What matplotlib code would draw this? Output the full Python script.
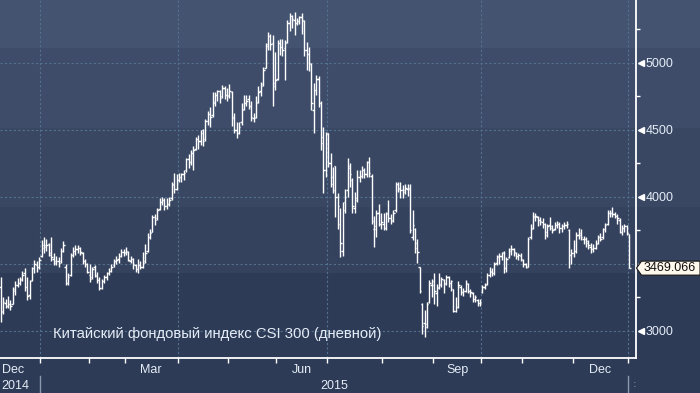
import numpy as np
import pandas as pd
import matplotlib
matplotlib.use("Agg")
import matplotlib.pyplot as plt
import matplotlib.transforms as mtransforms
from matplotlib.patches import Rectangle, Polygon

# ---------------- data (CSI 300 daily OHLC) ----------------
first_day = "2014-12-09"
last_day = "2016-01-04"
holidays = ["2015-01-01", "2015-01-02", "2015-02-18", "2015-02-19", "2015-02-20",
            "2015-02-23", "2015-02-24", "2015-04-06", "2015-05-01", "2015-06-22",
            "2015-09-03", "2015-09-04", "2015-10-01", "2015-10-02", "2015-10-05",
            "2015-10-06", "2015-10-07", "2016-01-01"]

opens = [
    # Dec 2014
    3330, 3150, 3210, 3190, 3200, 3200, 3300, 3340, 3360, 3390, 3430, 3330, 3270, 3380, 3470, 3490, 3480,
    # Jan 2015
    3560, 3620, 3630, 3650, 3580, 3540, 3510, 3520, 3520, 3600, 3480, 3360, 3420, 3570, 3600, 3610, 3620, 3580, 3520, 3500,
    # Feb
    3420, 3400, 3480, 3410, 3380, 3320, 3370, 3400, 3430, 3450, 3490, 3520, 3540, 3560, 3590,
    # Mar
    3590, 3590, 3520, 3540, 3490, 3460, 3490, 3480, 3520, 3600, 3700, 3740, 3850, 3840, 3910, 3960, 3980, 3930, 3950, 3990, 4100, 4060,
    # Apr
    4130, 4150, 4170, 4200, 4280, 4260, 4330, 4360, 4430, 4420, 4500, 4430, 4570, 4620, 4610, 4710, 4760, 4790, 4750, 4810, 4760,
    # May
    4760, 4780, 4600, 4500, 4480, 4560, 4660, 4700, 4730, 4680, 4590, 4600, 4710, 4790, 4840, 4960, 5140, 5200, 5150, 4830,
    # Jun
    4880, 5150, 5120, 5110, 5160, 5300, 5350, 5320, 5300, 5310, 5340, 5310, 5100, 5070, 4990, 4650, 4800, 4880, 4700, 4450, 4200,
    # Jul
    4480, 4250, 4150, 4230, 4000, 3800, 3600, 3960, 4050, 4220, 4130, 3920, 3990, 4150, 4160, 4200, 4170, 4260, 4160, 3760, 3780, 3880, 3800,
    # Aug
    3800, 3770, 3880, 3840, 3830, 3900, 4100, 4060, 4050, 4050, 4060, 4070, 3700, 3760, 3620, 3480, 3200, 3060, 3050, 3220, 3340,
    # Sep
    3340, 3280, 3330, 3350, 3380, 3360, 3400, 3360, 3310, 3150, 3180, 3330, 3290, 3300, 3350, 3300, 3280, 3240, 3230, 3210,
    # Oct
    3290, 3330, 3350, 3420, 3440, 3430, 3510, 3560, 3560, 3590, 3470, 3550, 3610, 3610, 3580, 3560, 3560,
    # Nov
    3530, 3500, 3480, 3700, 3770, 3860, 3850, 3830, 3810, 3800, 3720, 3790, 3770, 3760, 3790, 3800, 3770, 3780, 3790, 3750, 3570,
    # Dec
    3580, 3600, 3720, 3720, 3690, 3690, 3660, 3630, 3610, 3620, 3660, 3700, 3700, 3760, 3800, 3880, 3880, 3870, 3860, 3830, 3740, 3770, 3780,
    # Jan 2016
    3726,
]
highs = [
    3400, 3250, 3240, 3260, 3230, 3330, 3370, 3395, 3400, 3450, 3470, 3400, 3380, 3480, 3530, 3520, 3550,
    3680, 3700, 3690, 3660, 3700, 3580, 3560, 3550, 3620, 3670, 3500, 3430, 3580, 3630, 3640, 3640, 3630, 3590, 3540, 3510,
    3500, 3480, 3490, 3440, 3400, 3390, 3420, 3440, 3470, 3500, 3540, 3560, 3580, 3610, 3610,
    3625, 3600, 3560, 3545, 3500, 3540, 3520, 3590, 3650, 3730, 3760, 3865, 3870, 3920, 3990, 4000, 3990, 3990, 4000, 4110, 4180, 4170,
    4180, 4180, 4200, 4290, 4320, 4350, 4380, 4450, 4460, 4500, 4510, 4580, 4640, 4670, 4780, 4780, 4800, 4800, 4835, 4830, 4810,
    4840, 4790, 4630, 4560, 4560, 4700, 4760, 4760, 4760, 4720, 4630, 4750, 4830, 4860, 4970, 5150, 5230, 5220, 5210, 5080,
    5170, 5180, 5180, 5170, 5320, 5370, 5360, 5380, 5335, 5350, 5370, 5320, 5160, 5120, 5000, 4850, 4910, 4900, 4720, 4520, 4485,
    4480, 4330, 4225, 4230, 4030, 3920, 3960, 4060, 4290, 4250, 4140, 4040, 4200, 4200, 4230, 4220, 4270, 4300, 4170, 3860, 3900, 3950, 3880,
    3880, 3890, 3980, 3870, 3900, 4115, 4110, 4110, 4090, 4100, 4100, 4100, 3900, 3770, 3690, 3480, 3210, 3160, 3215, 3380, 3390,
    3430, 3350, 3430, 3400, 3390, 3420, 3410, 3380, 3310, 3250, 3370, 3340, 3320, 3380, 3360, 3310, 3290, 3270, 3240, 3240,
    3345, 3360, 3430, 3480, 3470, 3515, 3570, 3580, 3590, 3600, 3550, 3620, 3640, 3620, 3590, 3580, 3580,
    3540, 3510, 3700, 3800, 3890, 3880, 3860, 3850, 3840, 3805, 3800, 3850, 3790, 3810, 3820, 3810, 3800, 3810, 3820, 3760, 3610,
    3680, 3740, 3770, 3760, 3710, 3700, 3680, 3660, 3650, 3680, 3720, 3730, 3770, 3805, 3900, 3900, 3925, 3890, 3870, 3840, 3790, 3800, 3790,
    3726,
]
lows = [
    3065, 3130, 3170, 3170, 3160, 3200, 3270, 3330, 3340, 3370, 3300, 3230, 3240, 3370, 3430, 3440, 3460,
    3550, 3580, 3600, 3560, 3520, 3490, 3490, 3480, 3510, 3590, 3340, 3340, 3410, 3550, 3570, 3580, 3570, 3500, 3480, 3430,
    3365, 3390, 3400, 3360, 3305, 3310, 3360, 3380, 3420, 3440, 3480, 3500, 3510, 3550, 3560,
    3570, 3520, 3510, 3460, 3440, 3430, 3460, 3470, 3510, 3590, 3690, 3740, 3790, 3830, 3900, 3940, 3900, 3910, 3930, 3980, 4030, 4050,
    4110, 4110, 4130, 4190, 4220, 4240, 4200, 4350, 4360, 4390, 4380, 4420, 4540, 4520, 4600, 4680, 4720, 4700, 4740, 4730, 4720,
    4740, 4530, 4480, 4440, 4470, 4540, 4650, 4680, 4660, 4570, 4560, 4590, 4700, 4750, 4830, 4960, 5100, 5100, 4680, 4800,
    4870, 5060, 5050, 4870, 5150, 5240, 5260, 5210, 5280, 5290, 5220, 5050, 4950, 4940, 4650, 4480, 4760, 4670, 4350, 4030, 4150,
    4225, 4075, 4030, 3850, 3760, 3550, 3560, 3880, 4000, 4075, 3880, 3880, 3960, 4110, 4140, 4140, 4150, 4150, 3800, 3630, 3700, 3780, 3760,
    3755, 3750, 3815, 3800, 3810, 3890, 4040, 3990, 3990, 4020, 4010, 3730, 3680, 3580, 3510, 3280, 2980, 2955, 3020, 3210, 3250,
    3200, 3190, 3310, 3330, 3280, 3340, 3330, 3300, 3140, 3140, 3170, 3270, 3260, 3290, 3280, 3250, 3215, 3220, 3190, 3190,
    3280, 3310, 3340, 3400, 3410, 3420, 3490, 3500, 3530, 3430, 3440, 3545, 3570, 3560, 3540, 3530, 3520,
    3480, 3470, 3475, 3690, 3760, 3820, 3780, 3790, 3770, 3690, 3700, 3750, 3730, 3750, 3770, 3730, 3740, 3760, 3770, 3470, 3500,
    3550, 3580, 3690, 3680, 3650, 3630, 3610, 3580, 3590, 3610, 3650, 3670, 3690, 3740, 3790, 3850, 3850, 3840, 3800, 3730, 3720, 3740, 3720,
    3469.066,
]
closes = [
    3140, 3220, 3190, 3200, 3190, 3310, 3340, 3360, 3380, 3420, 3330, 3260, 3370, 3470, 3500, 3480, 3530,
    3640, 3640, 3645, 3570, 3550, 3520, 3520, 3510, 3600, 3640, 3360, 3400, 3570, 3600, 3610, 3620, 3590, 3520, 3500, 3440,
    3390, 3460, 3420, 3380, 3320, 3370, 3400, 3430, 3450, 3480, 3520, 3530, 3560, 3590, 3580,
    3600, 3530, 3540, 3500, 3460, 3490, 3480, 3510, 3580, 3700, 3730, 3850, 3830, 3900, 3960, 3980, 3930, 3950, 3980, 4090, 4060, 4130,
    4150, 4170, 4180, 4280, 4260, 4330, 4350, 4430, 4420, 4480, 4420, 4570, 4620, 4600, 4700, 4760, 4790, 4740, 4810, 4760, 4750,
    4790, 4590, 4500, 4480, 4520, 4650, 4700, 4720, 4680, 4600, 4590, 4700, 4780, 4830, 4950, 5130, 5200, 5140, 4850, 4870,
    5150, 5120, 5100, 5150, 5300, 5350, 5330, 5300, 5310, 5340, 5320, 5100, 5070, 5000, 4700, 4800, 4880, 4700, 4400, 4200, 4470,
    4250, 4100, 4050, 4000, 3930, 3660, 3900, 4000, 4230, 4170, 3930, 3980, 4150, 4160, 4200, 4170, 4260, 4180, 3820, 3760, 3880, 3800, 3810,
    3770, 3870, 3840, 3820, 3880, 4100, 4070, 4050, 4040, 4070, 4060, 3750, 3790, 3660, 3590, 3300, 3040, 3030, 3200, 3360, 3370,
    3300, 3320, 3340, 3390, 3350, 3400, 3360, 3370, 3150, 3180, 3340, 3290, 3300, 3360, 3300, 3290, 3240, 3250, 3210, 3220,
    3330, 3340, 3420, 3450, 3430, 3500, 3550, 3560, 3580, 3470, 3540, 3600, 3610, 3590, 3560, 3570, 3540,
    3500, 3480, 3690, 3760, 3850, 3860, 3830, 3820, 3800, 3740, 3780, 3780, 3750, 3790, 3800, 3770, 3780, 3790, 3800, 3570, 3580,
    3600, 3720, 3730, 3700, 3690, 3670, 3640, 3610, 3620, 3650, 3700, 3690, 3760, 3790, 3880, 3880, 3870, 3860, 3840, 3740, 3770, 3780, 3730,
    3469.066,
]

yticks = [3000, 3500, 4000, 4500, 5000]
ytick_labels = ["3000", "", "4000", "4500", "5000"]   # 3500 is covered by the last-value tag
yminor = [3250, 3750, 4250, 4750, 5250]
month_label_periods = ["2014-12", "2015-03", "2015-06", "2015-09", "2015-12"]
month_label_texts = ["Dec", "Mar", "Jun", "Sep", "Dec"]
caption = "Китайский фондовый индекс CSI 300 (дневной)"

# ---------------- trading calendar ----------------
cal = pd.bdate_range("2014-12-01", last_day)
cal = cal[~cal.isin(pd.to_datetime(holidays))]
start = cal.get_loc(pd.Timestamp(first_day))
pos = np.arange(len(cal)) - start
x = pos[start:]
assert len(x) == len(closes) == len(opens) == len(highs) == len(lows)

periods = cal.to_period("M")
month_bounds, quarter_bounds, year_bounds = [], [], []
for i in range(1, len(cal)):
    if periods[i] != periods[i - 1]:
        b = pos[i] - 0.5
        month_bounds.append(b)
        if periods[i].month in (1, 4, 7, 10):
            quarter_bounds.append(b)
        if periods[i].month == 1:
            year_bounds.append(b)
month_centers = []
for p in month_label_periods:
    sel = pos[periods == pd.Period(p, "M")]
    month_centers.append((sel[0] + sel[-1]) / 2.0)

# ---------------- figure ----------------
W, H = 700, 393
fig = plt.figure(figsize=(7.0, 3.93), dpi=100)
fig.patch.set_facecolor("#2e3b57")
bands = [(0, 48, "#44536f"), (48, 128, "#3e4c69"), (128, 207, "#394763"),
         (207, 273, "#35425e"), (273, 393, "#2e3b57")]
for y0, y1, c in bands:
    fig.patches.append(Rectangle((0, 1 - y1 / H), 1, (y1 - y0) / H, transform=fig.transFigure,
                                 facecolor=c, edgecolor="none", zorder=-10))

ax_right, ax_bottom = 636, 358
ax = fig.add_axes([0, 1 - ax_bottom / H, ax_right / W, ax_bottom / H])
ax.set_facecolor("none")
ax.set_xlim(-0.3, 263.8)
ax.set_ylim(2798.5, 5470)

txtc = "#e4ecf5"
gridc = "#52718e"
font = "Liberation Sans"

# grid
for yv in yticks:
    ax.axhline(yv, color=gridc, lw=0.8, ls=(0, (2, 2)), zorder=1)
for qb in quarter_bounds:
    ax.axvline(qb, color=gridc, lw=0.8, ls=(0, (2, 2)), zorder=1)

# OHLC bars
xa = np.asarray(x, dtype=float)
ax.vlines(xa, lows, highs, color="white", lw=1.0, zorder=3)
ax.hlines(opens, xa - 0.55, xa, color="white", lw=1.0, zorder=3)
ax.hlines(closes, xa, xa + 0.55, color="white", lw=1.0, zorder=3)

# spines
for s in ("left", "top"):
    ax.spines[s].set_visible(False)
for s in ("right", "bottom"):
    ax.spines[s].set_color("white")
    ax.spines[s].set_linewidth(1.3)

# y axis
ax.yaxis.tick_right()
ax.set_yticks(yticks)
ax.set_yticks(yminor, minor=True)
ax.set_yticklabels(ytick_labels)
ax.tick_params(axis="y", which="major", length=0, pad=7, labelsize=9, labelcolor=txtc)
ax.tick_params(axis="y", which="minor", length=3, width=1, color="white", direction="out")
for lab in ax.get_yticklabels():
    lab.set_fontfamily(font)
ytrans = mtransforms.blended_transform_factory(ax.transAxes, ax.transData)
tri_trans = mtransforms.offset_copy(ytrans, fig=fig, x=4.5, y=0, units="dots")
ax.plot(np.ones(len(yticks)), yticks, ls="none", marker="<", ms=5, mfc="white", mec="white",
        transform=tri_trans, clip_on=False, zorder=5)

# x axis
ax.set_xticks(month_bounds)
ax.set_xticklabels([])
ax.tick_params(axis="x", which="major", length=3.5, width=1, color="white", direction="out")
xtrans = mtransforms.blended_transform_factory(ax.transData, ax.transAxes)
for c, t in zip(month_centers, month_label_texts):
    ax.text(c, (ax_bottom - 370) / ax_bottom, t, transform=xtrans, ha="center", va="center",
            fontsize=9, color=txtc, family=font)
ax.text(0.002, (ax_bottom - 386) / ax_bottom, "2014", transform=ax.transAxes, ha="left",
        va="center", fontsize=9, color=txtc, family=font)
ax.text((year_bounds[0] + year_bounds[1]) / 2, (ax_bottom - 386) / ax_bottom, "2015",
        transform=xtrans, ha="center", va="center", fontsize=9, color=txtc, family=font)
for yb in year_bounds:
    ax.plot([yb, yb], [(ax_bottom - 376) / ax_bottom, (ax_bottom - 393) / ax_bottom],
            transform=xtrans, color="#8a98ad", lw=1.0, clip_on=False)
fig.text(635 / W, 1 - 384 / H, ":", color="#8a98ad", fontsize=8, ha="center", va="center")

# caption
fig.text(53 / W, 1 - 334 / H, caption, color=txtc, fontsize=10.7, family=font,
         ha="left", va="center")

# last value tag
fig.canvas.draw()
ylast = ax.transData.transform((0, closes[-1]))[1]
xl = ax.transAxes.transform((1, 0))[0]
hh = 7
tag = Polygon([(xl + 0.5, ylast), (xl + 5.5, ylast + hh), (W, ylast + hh), (W, ylast - hh),
               (xl + 5.5, ylast - hh)], closed=True, transform=None,
              facecolor="#fdf7ec", edgecolor="#151515", lw=0.8, zorder=10)
fig.patches.append(tag)
fig.text((xl + 8) / W, ylast / H, f"{closes[-1]:.3f}", color="#111111", fontsize=9,
         family=font, ha="left", va="center", zorder=11)

fig.savefig("out.png", dpi=100, facecolor=fig.get_facecolor())
